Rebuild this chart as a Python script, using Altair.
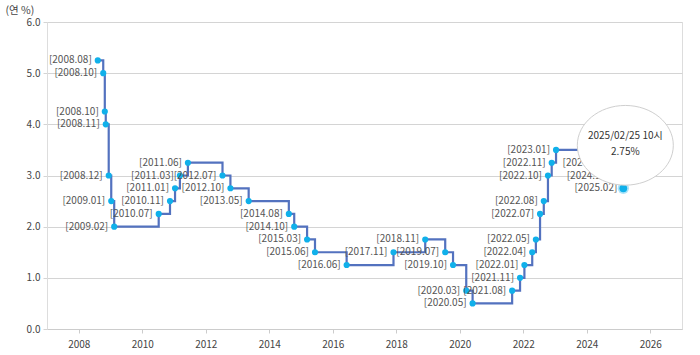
import altair as alt
import pandas as pd

dates = ["2008-08-07", "2008-10-09", "2008-10-27", "2008-11-07", "2008-12-11",
         "2009-01-09", "2009-02-12", "2010-07-09", "2010-11-16", "2011-01-13",
         "2011-03-10", "2011-06-10", "2012-07-12", "2012-10-11", "2013-05-09",
         "2014-08-14", "2014-10-15", "2015-03-12", "2015-06-11", "2016-06-09",
         "2017-11-30", "2018-11-30", "2019-07-18", "2019-10-16", "2020-03-16",
         "2020-05-28", "2021-08-26", "2021-11-25", "2022-01-14", "2022-04-14",
         "2022-05-26", "2022-07-13", "2022-08-25", "2022-10-12", "2022-11-24",
         "2023-01-13", "2024-10-11", "2024-11-28", "2025-02-25"]
rates = [5.25, 5.00, 4.25, 4.00, 3.00,
         2.50, 2.00, 2.25, 2.50, 2.75,
         3.00, 3.25, 3.00, 2.75, 2.50,
         2.25, 2.00, 1.75, 1.50, 1.25,
         1.50, 1.75, 1.50, 1.25, 0.75,
         0.50, 0.75, 1.00, 1.25, 1.50,
         1.75, 2.25, 2.50, 3.00, 3.25,
         3.50, 3.25, 3.00, 2.75]
labels = ["[" + d[:4] + "." + d[5:7] + "]" for d in dates]

tooltip_date = ["2025/02/25 10시"]
tooltip_value = ["2.75%"]

df = pd.DataFrame({"date": pd.to_datetime(dates), "rate": rates, "label": labels})
last = df.tail(1).copy()
last["t1"] = tooltip_date
last["t2"] = tooltip_value

FONT = "Noto Sans CJK KR"
LINE = "#5372bf"
DOT = "#10b0ea"

x = alt.X("date:T",
          scale=alt.Scale(domain=["2007-01-01", "2027-01-01"]),
          axis=alt.Axis(title=None, format="%Y", values=[f"{y}-01-01" for y in range(2008, 2027, 2)],
                        grid=False, domainColor="#cccccc", tickColor="#cccccc", tickSize=4,
                        labelFont=FONT, labelFontSize=10, labelColor="#444444", labelPadding=6))
y = alt.Y("rate:Q",
          scale=alt.Scale(domain=[0, 6]),
          axis=alt.Axis(title="(연 %)", titleAngle=0, titleAlign="left", titleBaseline="middle",
                        titleX=-42, titleY=-12, titleFont=FONT, titleFontSize=10.5,
                        titleFontWeight="normal", titleColor="#444444",
                        values=[0, 1, 2, 3, 4, 5, 6], format=".1f",
                        gridColor="#d4d4d4", domainColor="#dddddd", tickColor="#d4d4d4",
                        tickSize=4, labelFont=FONT, labelFontSize=10, labelColor="#444444",
                        labelPadding=3))

base = alt.Chart(df)
line = base.mark_line(interpolate="step-after", color=LINE, strokeWidth=2.2).encode(x=x, y=y)
pts = base.mark_circle(size=38, color=DOT, opacity=1).encode(x=x, y=y)
txt = base.mark_text(align="right", baseline="middle", dx=-6, font=FONT, fontSize=10,
                     color="#555555").encode(x=x, y=y, text="label:N")

lb = alt.Chart(last)
halo = lb.mark_circle(size=130, color=DOT, opacity=0.35).encode(x=x, y=y)
lastpt = lb.mark_circle(size=60, color=DOT, opacity=1).encode(x=x, y=y)
bubble = lb.mark_point(shape="M -1 0 A 1 0.83 0 1 0 1 0 A 1 0.83 0 1 0 -1 0 Z",
                       size=9216, filled=True, fill="white", stroke="#cfcfcf",
                       strokeWidth=1, opacity=1, xOffset=2, yOffset=-43).encode(x=x, y=y)
t1 = lb.mark_text(font=FONT, fontSize=10, color="#333333", dx=2, dy=-52).encode(x=x, y=y, text="t1:N")
t2 = lb.mark_text(font=FONT, fontSize=10, color="#333333", dx=2, dy=-36).encode(x=x, y=y, text="t2:N")

chart = alt.layer(line, pts, txt, halo, lastpt, bubble, t1, t2).properties(
    width=635, height=307,
    padding={"left": 47, "top": 22, "right": 18, "bottom": 26},
    autosize="none",
    background="white",
).configure_view(stroke="#dddddd")

chart.save("out.html", embed_options={"renderer": "svg", "actions": False})
